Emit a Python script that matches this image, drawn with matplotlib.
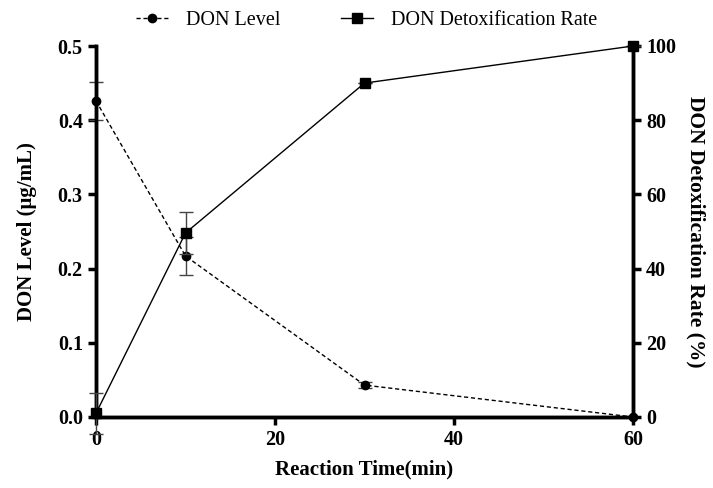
import matplotlib.pyplot as plt
import numpy as np

# reaction time (min)
time_min = [0, 10, 30, 60]
# DON level (ug/mL) and its error
don_level = [0.426, 0.217, 0.043, 0.0]
don_err = [0.026, 0.026, 0.004, 0.0]
# detoxification rate (%) and its error
detox_rate = [1.0, 49.6, 90.0, 100.0]
detox_err = [5.5, 5.7, 0.0, 0.0]

plt.rcParams['font.family'] = ['Liberation Serif', 'DejaVu Serif']

fig = plt.figure(figsize=(7.13, 4.88), dpi=100)
ax = fig.add_axes([96/713, 1-417/488, (633-96)/713, (417-46)/488])
ax2 = ax.twinx()

l1 = ax.errorbar(time_min, don_level, yerr=don_err, color='black', ls=(0, (3, 2)),
                 lw=1, marker='o', ms=6, capsize=5, elinewidth=1, ecolor='#444444',
                 clip_on=False, zorder=3)
l2 = ax2.errorbar(time_min, detox_rate, yerr=detox_err, color='black', ls='-',
                  lw=1, marker='s', ms=6.5, capsize=5, elinewidth=1, ecolor='#444444',
                  clip_on=False, zorder=3)

ax.set_xlim(0, 60)
ax.set_ylim(0, 0.5)
ax2.set_ylim(0, 100)
ax.set_xticks([0, 20, 40, 60])
ax.set_yticks([0.0, 0.1, 0.2, 0.3, 0.4, 0.5])
ax2.set_yticks([0, 20, 40, 60, 80, 100])

for a in (ax, ax2):
    a.spines['top'].set_visible(False)
    for s in a.spines.values():
        s.set_linewidth(2.5)
    a.tick_params(width=2.5, length=6, labelsize=14.5)
    for lab in a.get_xticklabels() + a.get_yticklabels():
        lab.set_fontweight('bold')

ax.set_xlabel('Reaction Time(min)', fontsize=15, fontweight='bold', labelpad=7)
ax.set_ylabel('DON Level (μg/mL)', fontsize=15, fontweight='bold', labelpad=15)
ax2.set_ylabel('DON Detoxification Rate (%)', fontsize=15.5, fontweight='bold',
               rotation=270, labelpad=21)

fig.legend(handles=[l1.lines[0], l2.lines[0]], labels=['DON Level', 'DON Detoxification Rate'],
           loc='upper center', bbox_to_anchor=(0.514, 1.015), ncol=2, frameon=False,
           fontsize=14.5, handlelength=1.6, handletextpad=0.9, columnspacing=3.0)

fig.savefig('out.png', dpi=100)
